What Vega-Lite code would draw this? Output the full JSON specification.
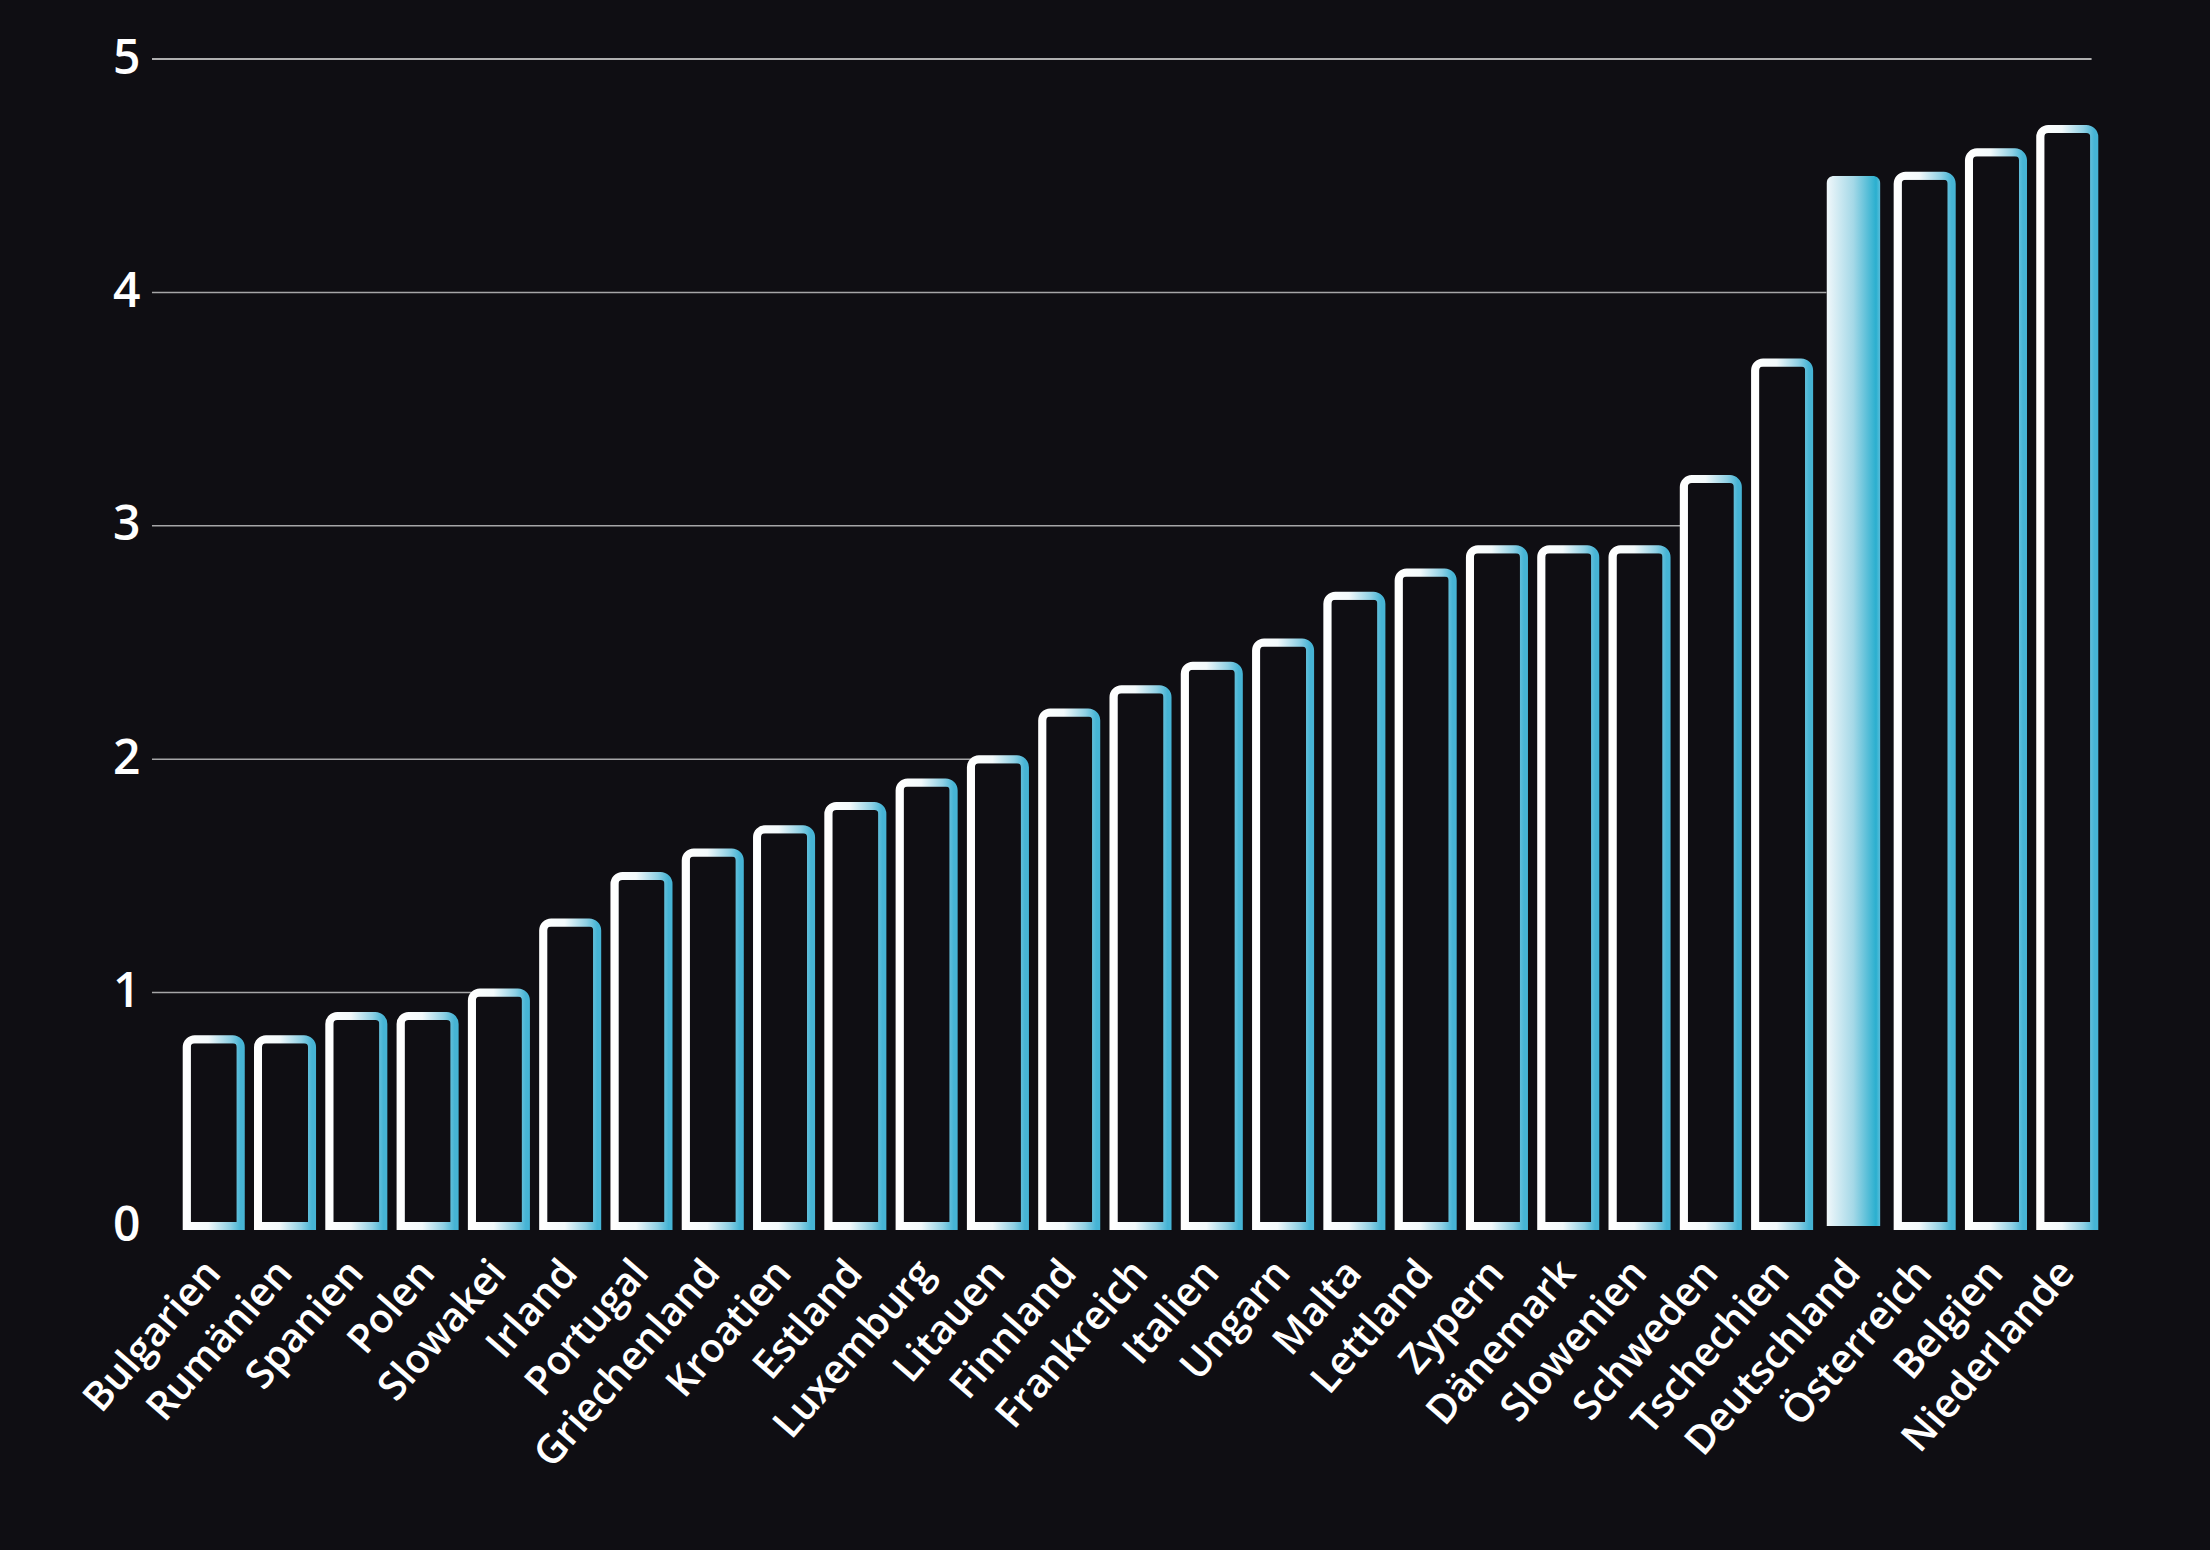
{
  "$schema": "https://vega.github.io/schema/vega-lite/v6.json",
  "autosize": "none",
  "width": 1977,
  "height": 1167,
  "padding": {"left": 152, "top": 59, "right": 81, "bottom": 324},
  "background": "#0f0e13",
  "config": {"view": {"stroke": null}, "font": "Open Sans"},
  "datasets": {
    "laender": [
      {"Land": "Bulgarien", "Wert": 0.8},
      {"Land": "Rumänien", "Wert": 0.8},
      {"Land": "Spanien", "Wert": 0.9},
      {"Land": "Polen", "Wert": 0.9},
      {"Land": "Slowakei", "Wert": 1.0},
      {"Land": "Irland", "Wert": 1.3},
      {"Land": "Portugal", "Wert": 1.5},
      {"Land": "Griechenland", "Wert": 1.6},
      {"Land": "Kroatien", "Wert": 1.7},
      {"Land": "Estland", "Wert": 1.8},
      {"Land": "Luxemburg", "Wert": 1.9},
      {"Land": "Litauen", "Wert": 2.0},
      {"Land": "Finnland", "Wert": 2.2},
      {"Land": "Frankreich", "Wert": 2.3},
      {"Land": "Italien", "Wert": 2.4},
      {"Land": "Ungarn", "Wert": 2.5},
      {"Land": "Malta", "Wert": 2.7},
      {"Land": "Lettland", "Wert": 2.8},
      {"Land": "Zypern", "Wert": 2.9},
      {"Land": "Dänemark", "Wert": 2.9},
      {"Land": "Slowenien", "Wert": 2.9},
      {"Land": "Schweden", "Wert": 3.2},
      {"Land": "Tschechien", "Wert": 3.7},
      {"Land": "Deutschland", "Wert": 4.5},
      {"Land": "Österreich", "Wert": 4.5},
      {"Land": "Belgien", "Wert": 4.6},
      {"Land": "Niederlande", "Wert": 4.7}
    ],
    "gitter": [
      {"Wert": 1, "von": "Bulgarien", "bis": "Slowakei"},
      {"Wert": 2, "von": "Bulgarien", "bis": "Litauen"},
      {"Wert": 3, "von": "Bulgarien", "bis": "Schweden"},
      {"Wert": 4, "von": "Bulgarien", "bis": "Deutschland"}
    ],
    "gitter5": [
      {"Wert": 5, "von": "Bulgarien", "bis": "Niederlande"}
    ]
  },
  "layer": [
    {
      "data": {"name": "gitter"},
      "mark": {"type": "rule", "stroke": "#a6a6a8", "strokeWidth": 1.5},
      "encoding": {
        "x": {"field": "von", "type": "nominal", "bandPosition": -0.643},
        "x2": {"field": "bis", "bandPosition": 0},
        "y": {"field": "Wert", "type": "quantitative"}
      }
    },
    {
      "data": {"name": "gitter5"},
      "mark": {"type": "rule", "stroke": "#e6e6e6", "strokeWidth": 1.5},
      "encoding": {
        "x": {"field": "von", "type": "nominal", "bandPosition": -0.643},
        "x2": {"field": "bis", "bandPosition": 0.95},
        "y": {"field": "Wert", "type": "quantitative"}
      }
    },
    {
      "data": {"name": "laender"},
      "mark": {
        "type": "bar",
        "cornerRadiusTopLeft": 8,
        "cornerRadiusTopRight": 8,
        "stroke": {
          "gradient": "linear",
          "x1": 0, "y1": 0, "x2": 1, "y2": 0,
          "stops": [
            {"offset": 0, "color": "#ffffff"},
            {"offset": 0.4, "color": "#f2f9fb"},
            {"offset": 0.8, "color": "#8fd0e4"},
            {"offset": 1, "color": "#46b4d5"}
          ]
        }
      },
      "encoding": {
        "x": {
          "field": "Land",
          "type": "nominal",
          "scale": {
            "domain": ["Bulgarien","Rumänien","Spanien","Polen","Slowakei","Irland","Portugal","Griechenland","Kroatien","Estland","Luxemburg","Litauen","Finnland","Frankreich","Italien","Ungarn","Malta","Lettland","Zypern","Dänemark","Slowenien","Schweden","Tschechien","Deutschland","Österreich","Belgien","Niederlande"],
            "paddingInner": 0.242,
            "paddingOuter": 0.487
          },
          "axis": {
            "title": null,
            "domain": false,
            "ticks": false,
            "labelAngle": -49,
            "labelFontSize": 40,
            "labelFontWeight": 600,
            "labelColor": "#ffffff",
            "labelPadding": 40,
            "labelLimit": 0,
            "labelFont": "Open Sans"
          }
        },
        "y": {
          "field": "Wert",
          "type": "quantitative",
          "scale": {"domain": [0, 5], "nice": false},
          "axis": {
            "title": null,
            "grid": false,
            "domain": false,
            "ticks": false,
            "values": [0, 1, 2, 3, 4, 5],
            "format": "d",
            "labelFontSize": 48,
            "labelFontWeight": 600,
            "labelColor": "#ffffff",
            "labelPadding": 12,
            "labelFont": "Open Sans"
          }
        },
        "fill": {
          "condition": {
            "test": "datum.Land === 'Deutschland'",
            "value": {
              "gradient": "linear",
              "x1": 0, "y1": 0, "x2": 1, "y2": 0,
              "stops": [
                {"offset": 0, "color": "#f2f8fb"},
                {"offset": 0.5, "color": "#a4d8e7"},
                {"offset": 0.92, "color": "#2aafcf"},
                {"offset": 1, "color": "#5fc0dc"}
              ]
            }
          },
          "value": "#0f0e13"
        },
        "strokeWidth": {
          "condition": {"test": "datum.Land === 'Deutschland'", "value": 0},
          "value": 8
        }
      }
    }
  ]
}
